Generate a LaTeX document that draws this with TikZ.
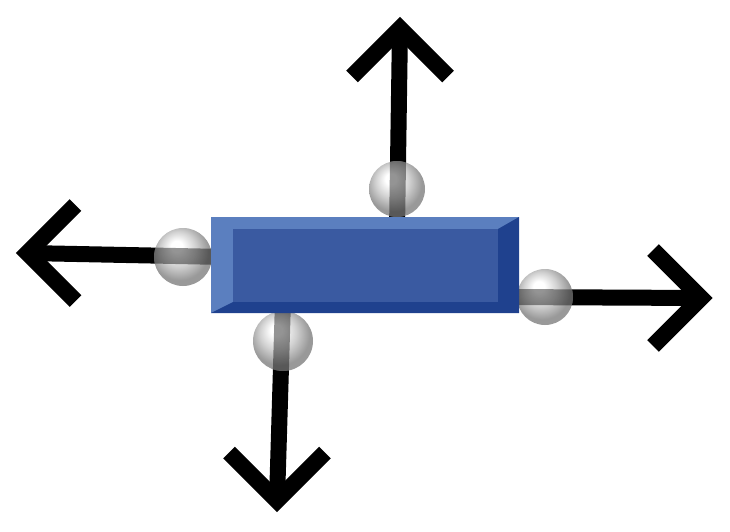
\documentclass[tikz,border=0pt]{standalone}
\usetikzlibrary{calc}
\definecolor{bevlight}{RGB}{91,127,191}
\definecolor{bevface}{RGB}{58,90,161}
\definecolor{bevdark}{RGB}{31,65,142}
\pgfdeclareradialshading{sphere}{\pgfqpoint{-6bp}{10bp}}{color(0bp)=(white); color(5bp)=(white); color(15bp)=(black!18); color(25bp)=(black!40); color(50bp)=(black!40)}
\tikzset{
  shaft/.style={line width=16pt, black},
  head/.style={line width=16.5pt, black, line join=miter, line cap=butt},
  band/.style={line width=16pt, black, opacity=0.42},
  sphereball/.style={shading=sphere}
}
\begin{document}
\begin{tikzpicture}[x=1pt,y=-1pt]
\useasboundingbox (0,0) rectangle (730,532);
% balls
\coordinate (bT) at (397,189);
\coordinate (bL) at (183,257);
\coordinate (bR) at (545,297);
\coordinate (bB) at (283,341);
% shaft starts (inside the block)
\coordinate (sT) at (397,230);
\coordinate (sL) at (225,257);
\coordinate (sR) at (505,297);
\coordinate (sB) at (283,300);
% tips
\coordinate (tT) at (400,28.5);
\coordinate (tL) at (27.5,253);
\coordinate (tR) at (701,298);
\coordinate (tB) at (277,500.5);
% shafts
\draw[shaft] (sT) -- (tT);
\draw[shaft] (sL) -- (tL);
\draw[shaft] (sR) -- (tR);
\draw[shaft] (sB) -- (tB);
% heads
\draw[head] ($(tT)+(-48,48)$) -- (tT) -- ($(tT)+(48,48)$);
\draw[head] ($(tL)+(48,-48)$) -- (tL) -- ($(tL)+(48,48)$);
\draw[head] ($(tR)+(-48,-48)$) -- (tR) -- ($(tR)+(-48,48)$);
\draw[head] ($(tB)+(-48,-48)$) -- (tB) -- ($(tB)+(48,-48)$);
% balls with dark band
\foreach \b/\s/\t/\r in {bT/sT/tT/28, bL/sL/tL/29, bR/sR/tR/28, bB/sB/tB/30}{
  \shade[sphereball] (\b) circle (\r);
  \begin{scope}
    \clip (\b) circle (\r);
    \draw[band] (\s) -- (\t);
  \end{scope}
}
% beveled block
\fill[bevlight] (211,217) rectangle (519,313);
\fill[bevdark] (519,217) -- (519,313) -- (211,313) -- (233,302) -- (498,302) -- (498,229) -- cycle;
\fill[bevface] (233,229) rectangle (498,302);
\end{tikzpicture}
\end{document}
